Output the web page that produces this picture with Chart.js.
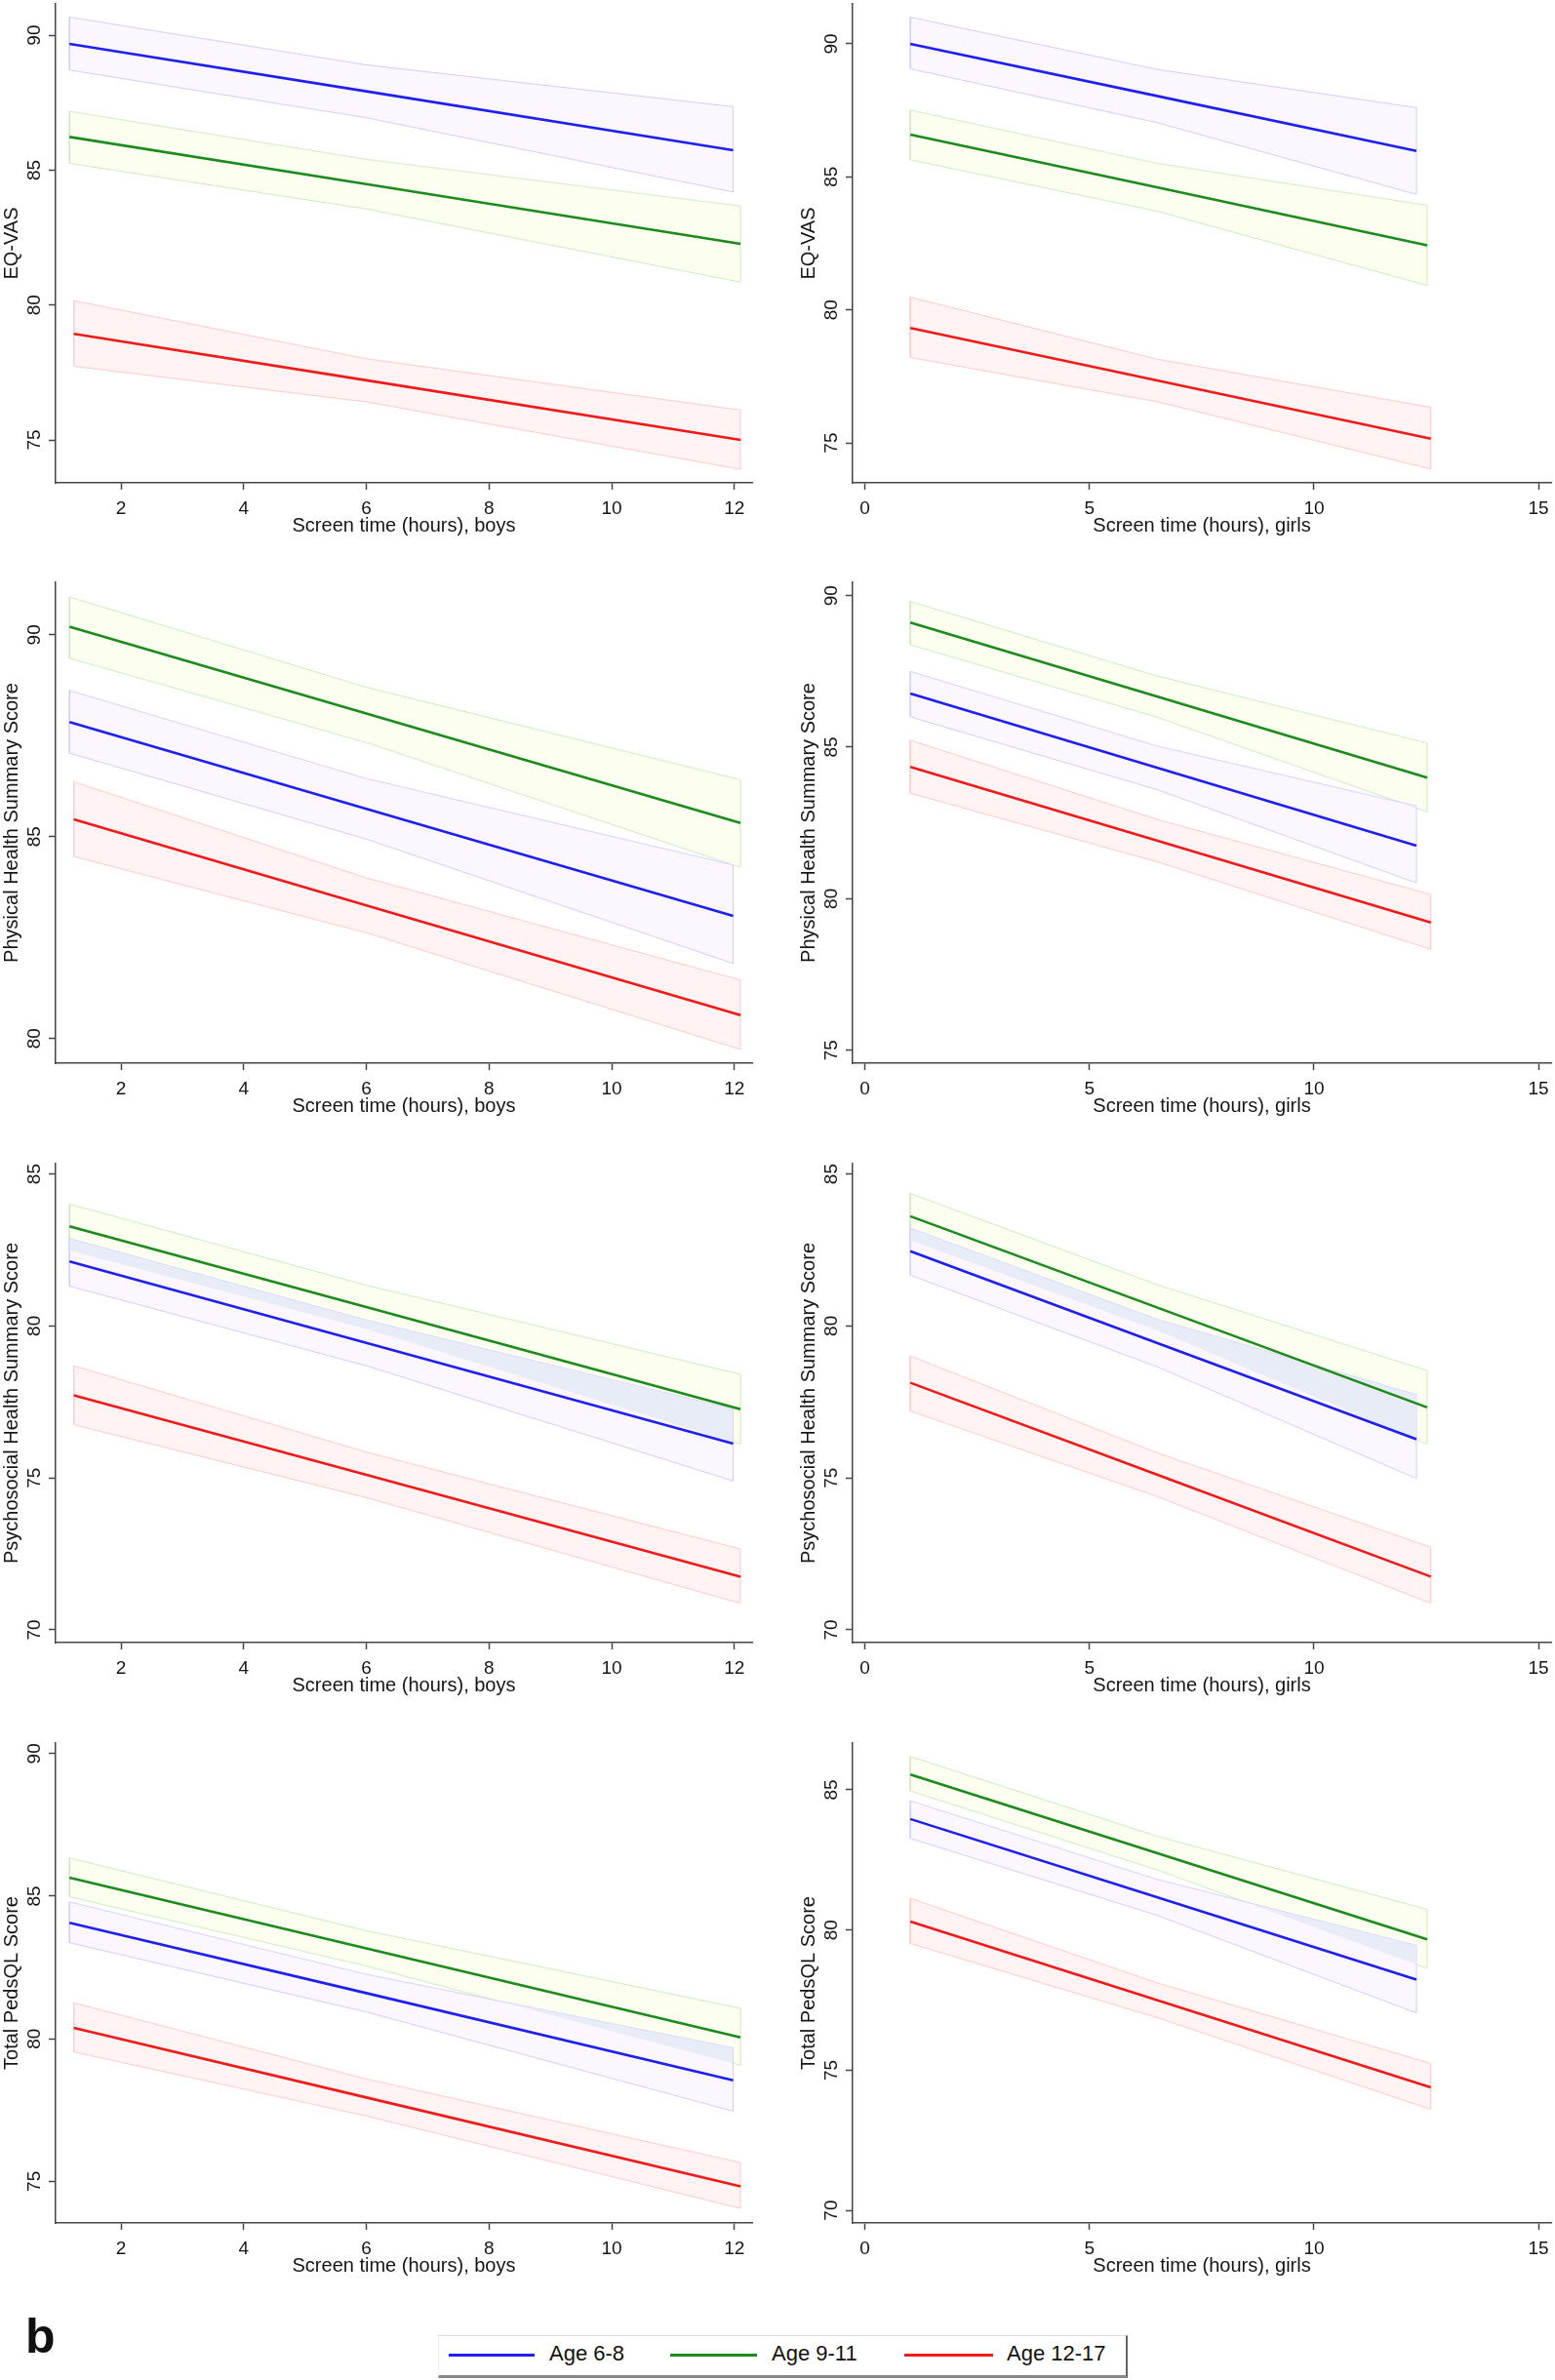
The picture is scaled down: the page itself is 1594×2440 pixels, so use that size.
<!DOCTYPE html>
<html>
<head>
<meta charset="utf-8">
<script src="https://cdn.jsdelivr.net/npm/chart.js@4.4.1/dist/chart.umd.min.js"></script>
<style>
  body { margin: 0; background: #fff; width: 1594px; height: 2440px; position: relative; overflow: hidden; font-family: "Liberation Sans", Arial, sans-serif; }
  canvas { position: absolute; }
  #tag { position: absolute; left: 26px; top: 2366px; font-weight: bold; font-size: 50px; color: #111; }
  #legend { position: absolute; left: 449px; top: 2394px; width: 704px; height: 40px; background: #fff;
            border-top: 1px solid #ddd; border-left: 1px solid #eee; border-right: 2px solid #666; border-bottom: 3px solid #888; }
  .ln { position: absolute; top: 18px; height: 3px; }
  .lb { position: absolute; top: 5px; font-size: 22px; color: #111; line-height: 26px; }
</style>
</head>
<body>
<div id="tag">b</div>
<div id="legend">
  <div class="ln" style="left:10px;width:88px;background:#1f1fef"></div><div class="lb" style="left:113px">Age 6-8</div>
  <div class="ln" style="left:237px;width:89px;background:#1c8a1c"></div><div class="lb" style="left:341px">Age 9-11</div>
  <div class="ln" style="left:477px;width:91px;background:#f01a1a"></div><div class="lb" style="left:582px">Age 12-17</div>
</div>
<script>
// screen time points (hours) per age group: start, middle, end
var boysX68 = [1.16, 6, 11.98];
var boysX911 = [1.16, 6, 12.1];
var boysX1217 = [1.23, 6, 12.1];
var girlsX68 = [1.01, 6.5, 12.28];
var girlsX911 = [1.01, 6.5, 12.52];
var girlsX1217 = [1.01, 6.5, 12.6];

// rows: Age 6-8, Age 9-11, Age 12-17
var eqvasBoysMean = [[89.68, 87.92, 85.74], [86.23, 84.48, 82.27], [78.93, 77.21, 75.00]];
var eqvasBoysLo   = [[88.71, 86.94, 84.19], [85.25, 83.56, 80.85], [77.73, 76.41, 73.91]];
var eqvasBoysHi   = [[90.67, 88.90, 87.35], [87.18, 85.40, 83.67], [80.16, 78.01, 76.11]];

var eqvasGirlsMean = [[90.00, 88.04, 85.97], [86.59, 84.61, 82.43], [79.32, 77.35, 75.16]];
var eqvasGirlsLo   = [[89.06, 87.04, 84.34], [85.64, 83.71, 80.92], [78.21, 76.55, 74.02]];
var eqvasGirlsHi   = [[91.00, 89.04, 87.60], [87.51, 85.51, 83.93], [80.48, 78.15, 76.34]];

var physBoysMean = [[87.84, 85.69, 83.04], [90.20, 88.05, 85.34], [85.43, 83.30, 80.58]];
var physBoysLo   = [[87.07, 84.94, 81.86], [89.42, 87.33, 84.24], [84.51, 82.62, 79.73]];
var physBoysHi   = [[88.62, 86.44, 84.30], [90.94, 88.70, 86.41], [86.36, 83.98, 81.45]];

var physGirlsMean = [[86.77, 84.32, 81.75], [89.11, 86.67, 83.99], [84.35, 81.92, 79.21]];
var physGirlsLo   = [[86.00, 83.60, 80.52], [88.38, 85.99, 82.86], [83.48, 81.22, 78.33]];
var physGirlsHi   = [[87.50, 85.04, 83.06], [89.81, 87.35, 85.14], [85.23, 82.62, 80.14]];

var psyBoysMean = [[82.12, 79.44, 76.13], [83.28, 80.62, 77.26], [77.72, 75.10, 71.75]];
var psyBoysLo   = [[81.31, 78.69, 74.90], [82.48, 79.90, 76.11], [76.75, 74.35, 70.87]];
var psyBoysHi   = [[82.88, 80.19, 77.26], [84.01, 81.34, 78.41], [78.69, 75.85, 72.66]];

var psyGirlsMean = [[82.46, 79.44, 76.27], [83.61, 80.61, 77.32], [78.13, 75.11, 71.75]];
var psyGirlsLo   = [[81.67, 78.66, 74.98], [82.82, 79.86, 76.11], [77.20, 74.39, 70.87]];
var psyGirlsHi   = [[83.22, 80.22, 77.74], [84.36, 81.36, 78.53], [79.01, 75.83, 72.72]];

var totBoysMean = [[84.07, 81.60, 78.54], [85.65, 83.17, 80.05], [80.38, 77.94, 74.82]];
var totBoysLo   = [[83.37, 80.94, 77.46], [84.98, 82.55, 79.07], [79.54, 77.29, 74.05]];
var totBoysHi   = [[84.80, 82.26, 79.68], [86.34, 83.79, 81.07], [81.26, 78.59, 75.66]];

var totGirlsMean = [[83.96, 81.17, 78.23], [85.55, 82.75, 79.67], [80.30, 77.50, 74.39]];
var totGirlsLo   = [[83.27, 80.53, 77.04], [84.96, 82.15, 78.63], [79.52, 76.88, 73.60]];
var totGirlsHi   = [[84.61, 81.81, 79.45], [86.19, 83.35, 80.74], [81.13, 78.12, 75.24]];

var groupNames = ['Age 6-8', 'Age 9-11', 'Age 12-17'];
var yTitles = ['EQ-VAS', 'Physical Health Summary Score', 'Psychosocial Health Summary Score', 'Total PedsQL Score'];
var xTitles = ['Screen time (hours), boys', 'Screen time (hours), girls'];

// axis ranges
var boysXRange = [0.934, 12.29];
var girlsXRange = [-0.275, 15.28];
var yRanges = [[73.41, 91.16], [73.5, 91.5], [79.39, 91.3], [74.57, 90.44],
               [69.58, 85.34], [69.58, 85.34], [73.54, 90.37], [69.55, 86.67]];

var lineColors = ['#1f1fef', '#1c8a1c', '#f01a1a'];
var edgeColors = ['#d4ccff', '#cdebbf', '#ffcaca'];
var fillColors = ['#fcf6ff', '#fcfef0', '#fff3f3'];
var overlapColor = '#e8ecf6';
var axisColor = '#444';
var textColor = '#151515';

var rowTops = [4, 597, 1193, 1787];
var rowBottoms = [495, 1090, 1684, 2279];

function pts(xs, ys) {
    return xs.map(function (x, i) { return { x: x, y: ys[i] }; });
}

function bandPts(xs, lo, hi) {
    var p = pts(xs, lo);
    for (var i = xs.length - 1; i >= 0; i--) p.push({ x: xs[i], y: hi[i] });
    p.push({ x: xs[0], y: lo[0] });
    return p;
}

function panel(row, col, mean, lo, hi) {
    var xs = col == 0 ? [boysX68, boysX911, boysX1217] : [girlsX68, girlsX911, girlsX1217];
    var xr = col == 0 ? boysXRange : girlsXRange;
    var yr = yRanges[row * 2 + col];
    var left = col == 0 ? 0 : 817;
    var width = col == 0 ? 797 : 777;
    var top = rowTops[row] - 4;
    var height = rowBottoms[row] - rowTops[row] + 64;

    var cv = document.createElement('canvas');
    cv.width = width; cv.height = height;
    cv.style.left = left + 'px'; cv.style.top = top + 'px';
    document.body.appendChild(cv);

    var datasets = [];
    for (var g = 0; g < 3; g++) {
        datasets.push({
            label: groupNames[g] + ' CI',
            data: bandPts(xs[g], lo[g], hi[g]),
            borderColor: edgeColors[g], borderWidth: 1,
            backgroundColor: fillColors[g], fill: 'shape', order: 5
        });
    }
    // overlap of the two upper CI bands (6-8 and 9-11)
    var upper = mean[0][0] > mean[1][0] ? 0 : 1;
    var lower = 1 - upper;
    datasets.push({
        label: 'overlap',
        data: pts(xs[upper], lo[upper]),
        borderWidth: 0, order: 2,
        fill: { target: 4, above: 'rgba(0,0,0,0)', below: overlapColor }
    });
    datasets.push({
        label: 'overlap target',
        data: pts(xs[lower], hi[lower]),
        borderWidth: 0, order: 2, fill: false
    });
    for (var g = 0; g < 3; g++) {
        datasets.push({
            label: groupNames[g],
            data: pts(xs[g], mean[g]),
            borderColor: lineColors[g], borderWidth: 2.6, fill: false, order: 0
        });
    }

    new Chart(cv.getContext('2d'), {
        type: 'line',
        data: { datasets: datasets },
        options: {
            responsive: false, animation: false, devicePixelRatio: 1, events: [],
            layout: { padding: { top: 4, bottom: 4, left: 0, right: col == 0 ? 26 : 4 } },
            elements: { point: { radius: 0 }, line: { tension: 0 } },
            plugins: { legend: { display: false }, tooltip: { enabled: false } },
            scales: {
                x: {
                    type: 'linear', min: xr[0], max: xr[1],
                    ticks: { stepSize: col == 0 ? 2 : 5, includeBounds: false, maxRotation: 0, padding: 8,
                             color: textColor, font: { family: 'Liberation Sans', size: 19 } },
                    grid: { drawOnChartArea: false, tickLength: 7, tickColor: axisColor, tickWidth: 1.5 },
                    border: { color: axisColor, width: 1.5 },
                    title: { display: true, text: xTitles[col], color: textColor, padding: 0,
                             font: { family: 'Liberation Sans', size: 20 } },
                    afterFit: function (s) { s.height = 56; s.paddingLeft = 0; s.paddingRight = 0; }
                },
                y: {
                    type: 'linear', min: yr[0], max: yr[1],
                    ticks: { stepSize: 5, includeBounds: false, minRotation: 90, maxRotation: 90, crossAlign: 'center', padding: 4,
                             color: textColor, font: { family: 'Liberation Sans', size: 19 } },
                    grid: { drawOnChartArea: false, tickLength: 7, tickColor: axisColor, tickWidth: 1.5 },
                    border: { color: axisColor, width: 1.5 },
                    title: { display: true, text: yTitles[row], color: textColor, padding: 0,
                             font: { family: 'Liberation Sans', size: 20 } },
                    afterFit: function (s) { s.width = 57; s.paddingTop = 0; s.paddingBottom = 0; }
                }
            }
        }
    });
}

panel(0, 0, eqvasBoysMean, eqvasBoysLo, eqvasBoysHi);
panel(0, 1, eqvasGirlsMean, eqvasGirlsLo, eqvasGirlsHi);
panel(1, 0, physBoysMean, physBoysLo, physBoysHi);
panel(1, 1, physGirlsMean, physGirlsLo, physGirlsHi);
panel(2, 0, psyBoysMean, psyBoysLo, psyBoysHi);
panel(2, 1, psyGirlsMean, psyGirlsLo, psyGirlsHi);
panel(3, 0, totBoysMean, totBoysLo, totBoysHi);
panel(3, 1, totGirlsMean, totGirlsLo, totGirlsHi);
</script>
</body>
</html>
